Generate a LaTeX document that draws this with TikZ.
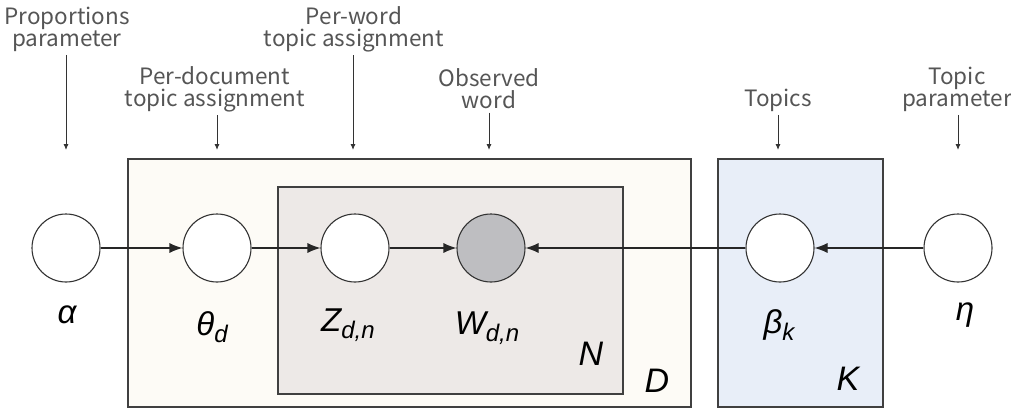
\documentclass[tikz,border=0pt]{standalone}
\usepackage{fontspec}
\setmainfont{Liberation Sans}
\newfontfamily\notefont{Noto Sans CJK KR}
\usetikzlibrary{arrows.meta}
\definecolor{docbg}{HTML}{FDFBF6}
\definecolor{wordbg}{HTML}{EDE9E7}
\definecolor{topicbg}{HTML}{E8EEF8}
\definecolor{obsgray}{HTML}{BEBEC1}
\definecolor{notegray}{HTML}{555555}
\newcommand{\lowsub}[1]{\raisebox{-7pt}{\fontsize{24}{24}\selectfont #1}}
\tikzset{
  var/.style={circle,draw=black!80,line width=1.1pt,fill=white,minimum size=68pt,inner sep=0pt},
  obs/.style={var,fill=obsgray},
  sym/.style={font=\fontsize{33}{33}\selectfont\itshape,anchor=base,inner sep=0pt},
  platesym/.style={font=\fontsize{34}{34}\selectfont\itshape,anchor=base,inner sep=0pt},
  note/.style={font=\notefont\fontsize{22.5}{22}\selectfont,text=notegray,align=center},
  plate/.style={draw=black!75,line width=1.3pt},
  edge/.style={line width=1.1pt,draw=black!85,-{Latex[length=13pt,width=10pt]}},
  pointer/.style={line width=0.9pt,draw=black!80,-{Latex[length=6pt,width=5pt]}}
}
\begin{document}
\begin{tikzpicture}[x=1pt,y=-1pt]
  \useasboundingbox (0,0) rectangle (1011,409);
  % plates
  \draw[plate,fill=docbg] (128,159) rectangle (691,407);
  \draw[plate,fill=wordbg] (278,187) rectangle (623,394);
  \draw[plate,fill=topicbg] (718,159) rectangle (883,407);
  \node[platesym] (N) at (591,365) {N};
  \node[platesym] (D) at (657,392) {D};
  \node[platesym] (K) at (848,390) {K};
  % variables
  \node[var] (alpha) at (66,248) {};
  \node[var] (theta) at (217,248) {};
  \node[var] (z) at (355,248) {};
  \node[obs] (w) at (491,248) {};
  \node[var] (beta) at (780,248) {};
  \node[var] (eta) at (958,248) {};
  \node[sym] (alphalbl) at (67,323) {α};
  \node[sym] (thetalbl) at (212,335) {θ\lowsub{d}};
  \node[sym] (zlbl) at (348,331) {Z\lowsub{d,n}};
  \node[sym] (wlbl) at (487,334) {W\lowsub{d,n}};
  \node[sym] (betalbl) at (779,333) {β\lowsub{k}};
  \node[sym] (etalbl) at (965,320) {η};
  \begin{scope}[edge]
    \draw (alpha) -- (theta);
    \draw (theta) -- (z);
    \draw (z) -- (w);
    \draw (beta) -- (w);
    \draw (eta) -- (beta);
  \end{scope}
  % notes
  \node[note] (propnote) at (67,29) {Proportions\\parameter};
  \node[note] (wordnote) at (354,29) {Per-word\\topic assignment};
  \node[note] (docnote) at (215,89) {Per-document\\topic assignment};
  \node[note] (obsnote) at (489,89) {Observed\\word};
  \node[note] (topicsnote) at (778,100) {Topics};
  \node[note] (etanote) at (957,89) {Topic\\parameter};
  \coordinate (propend) at (66,150);
  \coordinate (wordend) at (353,150);
  \coordinate (docend) at (217,150);
  \coordinate (obsend) at (489,150);
  \coordinate (topicsend) at (778,150);
  \coordinate (etaend) at (958,150);
  \begin{scope}[pointer]
    \draw (propnote.south -| propend) -- (propend);
    \draw (wordnote.south -| wordend) -- (wordend);
    \draw (docnote.south -| docend) -- (docend);
    \draw (obsnote.south -| obsend) -- (obsend);
    \draw (topicsnote.south -| topicsend) -- (topicsend);
    \draw (etanote.south -| etaend) -- (etaend);
  \end{scope}
\end{tikzpicture}
\end{document}
